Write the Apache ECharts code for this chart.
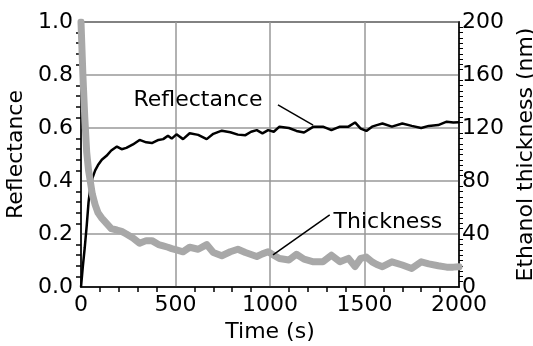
<!DOCTYPE html>
<html>
<head>
<meta charset="utf-8">
<script src="https://cdn.jsdelivr.net/npm/echarts@6/dist/echarts.min.js"></script>
<style>
  html, body { margin: 0; padding: 0; background: #fff; }
  #chart { width: 533px; height: 346px; }
</style>
</head>
<body>
<div id="chart"></div>
<script>
/* 数据 */
const timeS = [0, 10, 20, 30, 40, 50, 60, 75, 90, 110, 135, 160, 190, 215, 240, 275, 310, 345, 375, 410,
  435, 460, 480, 505, 540, 575, 620, 665, 700, 745, 790, 830, 870, 900, 930, 960, 990, 1020, 1050, 1100,
  1140, 1180, 1230, 1280, 1325, 1370, 1415, 1450, 1480, 1510, 1540, 1565, 1595, 1645, 1700, 1750, 1800,
  1840, 1890, 1935, 1970, 2000];
const reflectance = [0.00, 0.08, 0.15, 0.23, 0.32, 0.38, 0.41, 0.44, 0.46, 0.48, 0.495, 0.515, 0.53, 0.52,
  0.525, 0.538, 0.555, 0.546, 0.543, 0.555, 0.558, 0.571, 0.56, 0.576, 0.558, 0.58, 0.574, 0.558, 0.578,
  0.59, 0.584, 0.575, 0.573, 0.586, 0.592, 0.58, 0.592, 0.586, 0.605, 0.6, 0.589, 0.583, 0.605, 0.605,
  0.592, 0.605, 0.605, 0.621, 0.598, 0.589, 0.605, 0.611, 0.617, 0.605, 0.617, 0.608, 0.6, 0.608, 0.611,
  0.624, 0.621, 0.622];
const thicknessNm = [200, 160, 128, 102, 88, 79, 70, 62, 56, 52, 48, 44, 43, 42, 40, 37, 33, 35, 35, 32,
  31, 30, 29, 28, 26.6, 30, 28.5, 32, 26, 23.6, 26.6, 28.5, 26, 24.5, 23, 25, 26.6, 24, 21.5, 20.4,
  24.7, 21, 19, 19, 24, 19, 21.6, 15.5, 21.6, 22.6, 19, 17, 15.3, 19, 16.6, 14, 19, 17.5, 16, 15, 15, 15.3];
const xTicks = { min: 0, max: 2000, step: 500 };
const leftTicks = { min: 0, max: 1, step: 0.2 };
const rightTicks = { min: 0, max: 200, step: 40 };

/* 标注 (数据坐标) */
const reflNote = { text: 'Reflectance', at: [619, 0.706], from: [1042, 0.687], to: [1228, 0.611] };
const thickNote = { text: 'Thickness', at: [1624, 49], from: [1316, 54.4], to: [1016, 24.2] };

const font = 'DejaVu Sans';
const fs = 22;
const pair = (ys) => timeS.map((t, i) => [t, ys[i]]);

const chart = echarts.init(document.getElementById('chart'));
const option = {
  animation: false,
  textStyle: { fontFamily: font },
  grid: {
    left: 81, right: 74, top: 22, bottom: 59,
    containLabel: false, outerBoundsMode: 'none',
    show: true, borderColor: '#000', borderWidth: 1.5, backgroundColor: 'transparent'
  },
  xAxis: {
    type: 'value',
    min: xTicks.min, max: xTicks.max, interval: xTicks.step,
    name: 'Time (s)', nameLocation: 'middle', nameGap: 31,
    nameTextStyle: { fontSize: fs, color: '#000', fontFamily: font },
    axisLine: { lineStyle: { color: '#000', width: 1.5 } },
    axisTick: { show: false },
    minorTick: { show: true, splitNumber: 5, length: 5, lineStyle: { color: '#000', width: 1.5 } },
    axisLabel: { fontSize: fs, color: '#000', margin: 7, fontFamily: font, formatter: (v) => String(v) },
    splitLine: { lineStyle: { color: '#999', width: 1.5 } }
  },
  yAxis: [
    {
      type: 'value',
      min: leftTicks.min, max: leftTicks.max, interval: leftTicks.step,
      name: 'Reflectance', nameLocation: 'middle', nameGap: 46,
      nameTextStyle: { fontSize: fs, color: '#000', fontFamily: font },
      axisLine: { show: true, lineStyle: { color: '#000', width: 1.5 } },
      axisTick: { show: false },
      minorTick: { show: true, splitNumber: 5, length: 5, lineStyle: { color: '#000', width: 1.5 } },
      axisLabel: { fontSize: fs, color: '#000', margin: 8, fontFamily: font,
        formatter: (v) => v.toFixed(1) },
      splitLine: { lineStyle: { color: '#999', width: 1.5 } }
    },
    {
      type: 'value', position: 'right',
      min: rightTicks.min, max: rightTicks.max, interval: rightTicks.step,
      name: 'Ethanol thickness (nm)', nameLocation: 'middle', nameGap: 46,
      nameTextStyle: { fontSize: fs, color: '#000', fontFamily: font },
      axisLine: { show: true, lineStyle: { color: '#000', width: 1.5 } },
      axisTick: { show: false },
      minorTick: { show: true, splitNumber: 10, length: 4, lineStyle: { color: '#000', width: 1 } },
      axisLabel: { fontSize: fs, color: '#000', margin: 3, fontFamily: font },
      splitLine: { show: false }
    }
  ],
  series: [
    {
      name: 'Reflectance',
      type: 'line',
      yAxisIndex: 0,
      data: pair(reflectance),
      showSymbol: false,
      lineStyle: { color: '#000', width: 2.5 },
      z: 3,
      markLine: {
        silent: true, symbol: 'none', animation: false,
        label: { show: false },
        lineStyle: { color: '#000', width: 1.5, type: 'solid' },
        data: [[{ coord: reflNote.from }, { coord: reflNote.to }]]
      },
      markPoint: {
        silent: true, symbol: 'circle', symbolSize: 0,
        itemStyle: { color: 'transparent' },
        label: { show: true, position: 'inside', color: '#000', fontSize: fs, fontFamily: font,
          formatter: (p) => p.name },
        data: [{ name: reflNote.text, coord: reflNote.at }]
      }
    },
    {
      name: 'Thickness',
      type: 'line',
      yAxisIndex: 1,
      data: pair(thicknessNm),
      showSymbol: false,
      lineStyle: { color: '#a8a8a8', width: 7, join: 'round', cap: 'round' },
      z: 4,
      markLine: {
        silent: true, symbol: 'none', animation: false,
        label: { show: false },
        lineStyle: { color: '#000', width: 1.5, type: 'solid' },
        data: [[{ coord: thickNote.from }, { coord: thickNote.to }]]
      },
      markPoint: {
        silent: true, symbol: 'circle', symbolSize: 0,
        itemStyle: { color: 'transparent' },
        label: { show: true, position: 'inside', color: '#000', fontSize: fs, fontFamily: font,
          formatter: (p) => p.name },
        data: [{ name: thickNote.text, coord: thickNote.at }]
      }
    }
  ]
};
option && chart.setOption(option);
</script>
</body>
</html>
